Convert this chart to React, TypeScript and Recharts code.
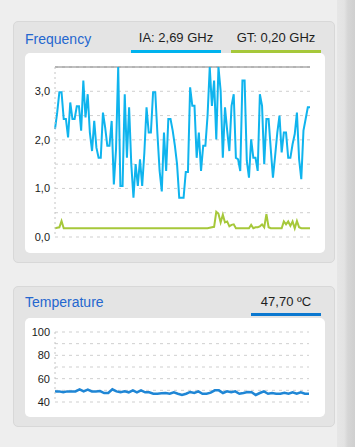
import React from 'react';
import { LineChart, Line, XAxis, YAxis, CartesianGrid, ReferenceLine } from 'recharts';

// IA frequency (GHz)
const iaFreq = [
  2.22, 2.56, 2.98, 2.98, 2.43, 2.43, 2.05, 2.77, 2.43, 2.43, 2.69, 2.69, 2.19, 3.22, 2.46, 2.94, 2.15, 1.77, 2.39, 1.84,
  1.63, 1.63, 2.56, 2.26, 1.88, 1.88, 2.39, 1.08, 1.81, 3.5, 1.05, 1.05, 2.94, 1.63, 2.67, 1.5, 0.81, 1.5, 1.05, 1.6,
  1.05, 1.74, 2.67, 2.15, 2.15, 2.98, 2.98, 2.12, 1.36, 0.94, 2.15, 1.36, 2.43, 2.43, 2.19, 1.88, 1.5, 0.81, 0.81, 0.81,
  1.34, 1.34, 3.08, 2.7, 2.7, 1.63, 2.15, 1.36, 1.88, 1.88, 2.5, 3.5, 2.7, 3.22, 2.01, 3.5, 3.01, 1.63, 2.67, 2.19,
  1.77, 2.7, 2.94, 1.63, 1.6, 1.36, 3.22, 3.22, 1.57, 1.22, 2.01, 1.63, 1.63, 1.36, 2.94, 2.7, 1.5, 2.43, 2.43, 1.81,
  1.22, 1.67, 2.15, 2.5, 1.74, 2.15, 2.15, 1.63, 1.63, 1.91, 2.12, 2.56, 1.6, 1.19, 2.19, 2.43, 2.67, 2.67,
];

// GT frequency (GHz)
const gtFreq = [
  0.18, 0.19, 0.2, 0.33, 0.18, 0.18, 0.18, 0.18, 0.18, 0.18, 0.18, 0.18, 0.18, 0.18, 0.18, 0.18, 0.18, 0.18, 0.18, 0.18,
  0.18, 0.18, 0.18, 0.18, 0.18, 0.18, 0.18, 0.18, 0.18, 0.18, 0.18, 0.18, 0.18, 0.18, 0.18, 0.18, 0.18, 0.18, 0.18, 0.18,
  0.18, 0.18, 0.18, 0.18, 0.18, 0.18, 0.18, 0.18, 0.18, 0.18, 0.18, 0.18, 0.18, 0.18, 0.18, 0.18, 0.18, 0.18, 0.18, 0.18,
  0.18, 0.18, 0.18, 0.18, 0.18, 0.18, 0.18, 0.18, 0.18, 0.18, 0.18, 0.19, 0.2, 0.21, 0.52, 0.48, 0.3, 0.46, 0.3, 0.32,
  0.22, 0.25, 0.26, 0.18, 0.18, 0.18, 0.18, 0.18, 0.18, 0.18, 0.25, 0.18, 0.2, 0.2, 0.22, 0.26, 0.2, 0.47, 0.2, 0.18,
  0.18, 0.18, 0.18, 0.18, 0.18, 0.32, 0.26, 0.32, 0.23, 0.32, 0.18, 0.33, 0.2, 0.18, 0.18, 0.18, 0.18, 0.18,
];

// package temperature (°C)
const temperature = [
  49.1, 49.1, 48.3, 49.1, 49.1, 49.1, 50.9, 49.1, 50.6, 49.1, 49.1, 49.4, 47.7, 47.7, 50.9, 49.1, 48.3, 49.1, 48.3, 50.0,
  48.3, 50.0, 48.3, 48.3, 47.1, 47.1, 47.4, 47.7, 47.1, 48.3, 47.1, 46.0, 47.1, 48.6, 47.7, 49.1, 47.1, 47.1, 48.0, 50.0,
  50.0, 47.7, 49.1, 48.3, 49.1, 47.1, 47.7, 48.6, 48.3, 46.0, 47.7, 49.1, 47.1, 47.7, 47.1, 47.1, 48.0, 47.1, 48.3, 47.1,
  48.3, 47.1, 47.1,
];

const freqTicks = [0, 0.5, 1, 1.5, 2, 2.5, 3, 3.5];
const tempTicks = [40, 50, 60, 70, 80, 90, 100];
const tempLabels = [40, 60, 80, 100];

const freqData = iaFreq.map((ia, i) => ({ i, ia, gt: gtFreq[i] }));
const tempData = temperature.map((t, i) => ({ i, t }));

const font = 'Arial, "Liberation Sans", Helvetica, sans-serif';
const tickStyle = { fontSize: 11, fill: '#1a1a1a', fontFamily: font };

const panel = (top: number, height: number): React.CSSProperties => ({
  position: 'absolute', left: 13, top, width: 322, height, background: '#e4e4e4',
  border: '1px solid #d8d8d8', borderRadius: 5, boxSizing: 'border-box',
});
const card = (top: number, height: number): React.CSSProperties => ({
  position: 'absolute', left: 25, top, width: 300, height, background: '#fff', borderRadius: 5,
});
const title = (top: number): React.CSSProperties => ({
  position: 'absolute', left: 25, top, fontSize: 14, lineHeight: '16px', color: '#2467cf', fontFamily: font,
});
const legendText = (left: number, top: number, width: number): React.CSSProperties => ({
  position: 'absolute', left, top, width, textAlign: 'center', fontSize: 13, lineHeight: '16px', color: '#1e1e1e', fontFamily: font,
});
const bar = (left: number, top: number, width: number, color: string): React.CSSProperties => ({
  position: 'absolute', left, top, width, height: 3, background: color,
});

const fmt = (v: number) => v.toFixed(1).replace('.', ',');

export default function App() {
  return (
    <div style={{ position: 'absolute', left: 0, top: 0, width: 355, height: 447, background: '#eeeeee', overflow: 'hidden' }}>
      <div style={{ position: 'absolute', left: 337, top: 0, width: 18, height: 447, background: 'linear-gradient(to right, #e6e6e6 0%, #e3e3e3 40%, #d6d6d6 60%, #cfcfcf 100%)' }} />

      <div style={panel(21, 242)} />
      <div style={title(31)}>Frequency</div>
      <div style={legendText(131, 30, 90)}>IA: 2,69 GHz</div>
      <div style={bar(131, 50, 90, '#00b3ee')} />
      <div style={legendText(231, 30, 90)}>GT: 0,20 GHz</div>
      <div style={bar(231, 50, 90, '#a6c83a')} />
      <div style={card(53, 200)}>
        <LineChart width={300} height={200} data={freqData} margin={{ top: 14, right: 15, bottom: 16, left: 0 }}>
          <CartesianGrid vertical={false} stroke="#cfcfcf" strokeDasharray="3 4" />
          <XAxis dataKey="i" hide />
          <YAxis
            width={30}
            domain={[0, 3.5]}
            ticks={freqTicks}
            interval={0}
            tickLine={false}
            tickSize={0}
            tickMargin={5}
            axisLine={{ stroke: '#c4c4c4', strokeDasharray: '2 3' }}
            tick={tickStyle}
            tickFormatter={(v: number) => (Number.isInteger(v) ? fmt(v) : '')}
          />
          <ReferenceLine y={3.5} stroke="#808080" strokeWidth={1} />
          <Line type="linear" dataKey="gt" stroke="#a6c83a" strokeWidth={2} dot={false} isAnimationActive={false} strokeLinejoin="miter" />
          <Line type="linear" dataKey="ia" stroke="#0fb4ee" strokeWidth={2} dot={false} isAnimationActive={false} strokeLinejoin="miter" />
        </LineChart>
      </div>

      <div style={panel(286, 141)} />
      <div style={title(294)}>Temperature</div>
      <div style={legendText(251, 294, 70)}>47,70 ºC</div>
      <div style={bar(251, 313, 70, '#0b78d0')} />
      <div style={card(318, 99)}>
        <LineChart width={300} height={99} data={tempData} margin={{ top: 14, right: 16, bottom: 15, left: 0 }}>
          <CartesianGrid vertical={false} stroke="#cfcfcf" strokeDasharray="3 4" />
          <XAxis dataKey="i" hide />
          <YAxis
            width={30}
            domain={[40, 100]}
            ticks={tempTicks}
            interval={0}
            tickLine={false}
            tickSize={0}
            tickMargin={5}
            axisLine={{ stroke: '#c4c4c4', strokeDasharray: '2 3' }}
            tick={tickStyle}
            tickFormatter={(v: number) => (tempLabels.includes(v) ? String(v) : '')}
          />
          <Line type="linear" dataKey="t" stroke="#1f86d5" strokeWidth={2.5} dot={false} isAnimationActive={false} />
        </LineChart>
      </div>
    </div>
  );
}
